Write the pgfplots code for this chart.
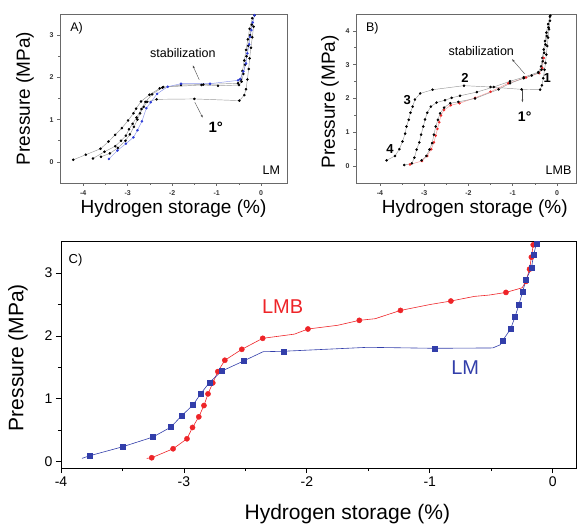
\documentclass[border=0pt]{standalone}
\usepackage{fontspec}
\setmainfont{Liberation Sans}
\usepackage{pgfplots}
\pgfplotsset{compat=1.18}
\usetikzlibrary{arrows.meta}

\definecolor{lmblue}{RGB}{50,62,170}
\definecolor{lmbred}{RGB}{238,36,40}
\definecolor{framegray}{RGB}{105,105,105}
\definecolor{ablue}{RGB}{45,60,215}
\definecolor{alblue}{RGB}{140,150,235}
\definecolor{bred}{RGB}{235,40,40}
\definecolor{bpink}{RGB}{245,150,150}

\pgfplotsset{
  smallpanel/.style={
    scale only axis, height=169pt,
    axis line style={framegray, line width=0.9pt},
    tick pos=left, tick align=outside,
    minor tick num=1,
    major tick length=3pt, minor tick length=1.6pt,
    tick style={framegray, line width=0.6pt},
    /pgf/number format/assume math mode=true,
    tick label style={font=\fontsize{7}{8}\selectfont\bfseries, text=black!80},
    xticklabel style={yshift=-1pt},
    label style={font=\fontsize{19}{22}\selectfont},
  },
  kdot/.style={color=black!40, line width=0.45pt, mark=*, mark size=1.05pt, mark options={draw=black, fill=black}},
}

\pgfplotstableread{
x y
-4.22 0.05
-3.94 0.17
-3.61 0.31
-3.43 0.48
-3.28 0.64
-3.13 0.80
-2.99 0.98
-2.87 1.15
-2.81 1.26
-2.70 1.43
-2.51 1.59
-2.28 1.74
-2.20 1.77
-1.34 1.82
-0.97 1.80
-0.50 1.82
-0.44 1.90
-0.40 2.08
-0.36 2.30
-0.33 2.50
-0.29 2.75
-0.25 3.00
-0.21 3.25
-0.15 3.47
}\tableAone

\pgfplotstableread{
x y
-3.78 0.08
-3.52 0.24
-3.28 0.37
-3.15 0.50
-3.04 0.62
-2.97 0.77
-2.89 0.90
-2.80 1.05
-2.69 1.25
-2.60 1.42
-2.45 1.60
-2.22 1.76
-1.80 1.82
-1.30 1.83
-0.52 1.86
-0.46 1.95
-0.42 2.15
-0.38 2.40
-0.34 2.65
-0.30 2.90
-0.26 3.15
-0.20 3.40
}\tableAtwo

\pgfplotstableread{
x y
-3.60 0.12
-3.40 0.20
-3.22 0.33
-3.05 0.50
-2.95 0.65
-2.86 0.83
-2.78 1.00
-2.72 1.15
-2.64 1.30
-2.56 1.42
-2.35 1.48
-1.50 1.49
-0.49 1.45
-0.38 1.58
-0.34 1.72
-0.31 1.95
-0.28 2.20
-0.26 2.45
-0.23 2.70
-0.20 2.95
-0.17 3.20
}\tableAthree

\pgfplotstableread{
x y
-3.42 0.07
-3.23 0.27
-3.04 0.43
-2.87 0.58
-2.78 0.75
-2.68 0.96
-2.58 1.27
-2.48 1.41
-2.34 1.61
-2.10 1.78
-1.80 1.85
-1.15 1.85
-0.52 1.93
-0.47 1.96
-0.40 2.14
-0.34 2.33
-0.31 2.57
-0.27 2.78
-0.25 2.96
-0.22 3.12
-0.19 3.30
-0.15 3.47
}\tableAblue

\pgfplotstableread{
x y
-3.85 0.17
-3.66 0.30
-3.56 0.50
-3.49 0.73
-3.43 0.96
-3.40 1.17
-3.35 1.37
-3.31 1.58
-3.26 1.76
-3.21 1.97
-3.09 2.15
-2.81 2.26
-2.10 2.38
-1.50 2.34
-0.80 2.27
-0.38 2.26
-0.34 2.39
-0.31 2.60
-0.28 2.85
-0.26 3.05
-0.24 3.30
-0.22 3.55
-0.20 3.80
-0.18 4.05
-0.16 4.30
-0.15 4.45
}\tableBone

\pgfplotstableread{
x y
-3.45 0.03
-3.28 0.08
-3.22 0.25
-3.17 0.49
-3.11 0.70
-3.07 0.93
-3.02 1.17
-2.98 1.38
-2.93 1.58
-2.85 1.76
-2.72 1.88
-2.53 1.95
-2.38 2.02
-2.19 2.08
-1.81 2.19
-1.43 2.34
-1.06 2.51
-0.75 2.63
-0.42 2.78
-0.36 2.95
-0.33 3.20
-0.30 3.45
-0.27 3.70
-0.24 3.95
-0.20 4.20
-0.16 4.42
}\tableBtwo

\pgfplotstableread{
x y
-3.06 0.17
-2.95 0.30
-2.88 0.49
-2.82 0.68
-2.78 0.93
-2.74 1.17
-2.69 1.37
-2.64 1.56
-2.55 1.73
-2.41 1.86
-2.23 1.90
-1.85 2.00
-1.32 2.27
-1.06 2.45
-0.75 2.60
-0.57 2.68
-0.42 2.76
-0.35 2.85
-0.32 3.10
-0.29 3.35
-0.26 3.60
-0.23 3.85
-0.19 4.10
}\tableBthree

\pgfplotstableread{
x y
-3.32 0.05
-3.05 0.15
-2.93 0.30
-2.84 0.50
-2.78 0.70
-2.74 0.90
-2.70 1.10
-2.66 1.30
-2.62 1.50
-2.55 1.66
-2.40 1.80
-2.20 1.86
-1.85 2.02
-1.50 2.20
-1.10 2.45
-0.70 2.62
-0.40 2.75
-0.33 2.90
-0.30 3.20
}\tableBred

\pgfplotstableread{
x y
-3.829 0.053
-3.767 0.095
-3.498 0.238
-3.253 0.392
-3.106 0.550
-3.022 0.725
-2.927 0.900
-2.864 1.080
-2.792 1.260
-2.694 1.440
-2.517 1.600
-2.356 1.750
-2.191 1.757
-1.504 1.820
-0.957 1.804
-0.487 1.810
-0.427 1.860
-0.407 1.926
-0.341 2.116
-0.305 2.312
-0.275 2.497
-0.245 2.698
-0.218 2.889
-0.173 3.079
-0.155 3.286
-0.132 3.476
}\tableLMline

\pgfplotstableread{
x y
-3.767 0.095
-3.498 0.238
-3.253 0.392
-3.106 0.550
-3.022 0.725
-2.927 0.900
-2.864 1.080
-2.792 1.260
-2.694 1.440
-2.517 1.600
-2.191 1.757
-0.957 1.804
-0.407 1.926
-0.341 2.116
-0.305 2.312
-0.275 2.497
-0.245 2.698
-0.218 2.889
-0.173 3.079
-0.155 3.286
-0.132 3.476
}\tableLMmarks

\pgfplotstableread{
x y
-3.303 0.053
-3.262 0.063
-3.088 0.206
-2.975 0.365
-2.930 0.545
-2.879 0.714
-2.837 0.894
-2.804 1.079
-2.765 1.254
-2.724 1.434
-2.667 1.614
-2.529 1.788
-2.359 1.963
-2.100 2.030
-1.991 2.111
-1.750 2.170
-1.573 2.249
-1.444 2.275
-1.238 2.407
-1.000 2.500
-0.828 2.556
-0.637 2.630
-0.517 2.651
-0.380 2.693
-0.248 2.767
-0.218 2.868
-0.188 3.063
-0.173 3.254
-0.158 3.450
}\tableLMBline

\pgfplotstableread{
x y
-3.262 0.063
-3.088 0.206
-2.975 0.365
-2.930 0.545
-2.879 0.714
-2.837 0.894
-2.804 1.079
-2.765 1.254
-2.724 1.434
-2.667 1.614
-2.529 1.788
-2.359 1.963
-1.991 2.111
-1.573 2.249
-1.238 2.407
-0.828 2.556
-0.380 2.693
-0.218 2.868
-0.188 3.063
-0.173 3.254
-0.158 3.450
}\tableLMBmarks

\begin{document}
\begin{tikzpicture}
\path[use as bounding box] (0,0) rectangle (577pt,525pt);

% ---------------- Panel A ----------------
\begin{axis}[smallpanel,
  at={(60pt,342pt)}, anchor=south west,
  width=227pt,
  xmin=-4.52, xmax=0.58, ymin=-0.5, ymax=3.5,
  xtick={-4,-3,-2,-1,0}, ytick={0,1,2,3},
  xlabel={Hydrogen storage (\%)}, ylabel={Pressure (MPa)},
  xlabel style={at={(axis description cs:0.5,-0.154)}, anchor=center},
  ylabel style={at={(axis description cs:-0.154,0.5)}, anchor=center},
]
\addplot[kdot] table {\tableAone};
\addplot[kdot] table {\tableAtwo};
\addplot[kdot] table {\tableAthree};
\addplot[color=alblue, line width=0.45pt, mark=*, mark size=1.05pt, mark options={draw=ablue, fill=ablue}] table {\tableAblue};
\node[font=\fontsize{12.5}{14}\selectfont, anchor=north west] at (axis description cs:0.03,0.97) {A)};
\node[font=\fontsize{12.5}{14}\selectfont, anchor=south east] at (axis description cs:0.985,0.03) {LM};
\node[font=\fontsize{12.5}{14}\selectfont] at (-1.76,2.58) {stabilization};
\draw[black!70, line width=0.4pt, -{Latex[length=3pt,width=2pt]}] (-1.39,1.94) -- (-1.54,2.29);
\node[font=\fontsize{15}{17}\selectfont\bfseries] at (-1.02,0.82) {1°};
\draw[black!70, line width=0.4pt, -{Latex[length=3pt,width=2pt]}] (-1.49,1.41) -- (-1.31,1.04);
\end{axis}

% ---------------- Panel B ----------------
\begin{axis}[smallpanel,
  at={(356pt,342pt)}, anchor=south west,
  width=220pt,
  xmin=-4.54, xmax=0.43, ymin=-0.5, ymax=4.5,
  xtick={-4,-3,-2,-1,0}, ytick={0,1,2,3,4},
  xlabel={Hydrogen storage (\%)}, ylabel={Pressure (MPa)},
  xlabel style={at={(axis description cs:0.54,-0.154)}, anchor=center},
  ylabel style={at={(axis description cs:-0.118,0.48)}, anchor=center},
]
\addplot[kdot] table {\tableBone};
\addplot[kdot] table {\tableBtwo};
\addplot[color=bpink, line width=0.45pt, mark=*, mark size=1.05pt, mark options={draw=bred, fill=bred}] table {\tableBred};
\addplot[kdot] table {\tableBthree};
\node[font=\fontsize{12.5}{14}\selectfont, anchor=north west] at (axis description cs:0.03,0.97) {B)};
\node[font=\fontsize{12.5}{14}\selectfont, anchor=south east] at (axis description cs:0.995,0.03) {LMB};
\node[font=\fontsize{12.5}{14}\selectfont] at (-1.71,3.41) {stabilization};
\draw[black!70, line width=0.4pt, -{Latex[length=3pt,width=2pt]}] (-0.73,2.73) -- (-1.02,3.17);
\node[font=\fontsize{14}{16}\selectfont\bfseries] at (-0.73,1.46) {1°};
\draw[black!70, line width=0.4pt, -{Latex[length=3pt,width=2pt]}] (-0.78,2.26) -- (-0.78,1.88);
\node[font=\fontsize{13}{15}\selectfont\bfseries] at (-2.08,2.62) {2};
\node[font=\fontsize{13}{15}\selectfont\bfseries] at (-3.38,1.95) {3};
\node[font=\fontsize{13}{15}\selectfont\bfseries] at (-3.77,0.50) {4};
\node[font=\fontsize{13}{15}\selectfont\bfseries] at (-0.22,2.62) {1};
\end{axis}

% ---------------- Panel C ----------------
\begin{axis}[
  scale only axis,
  at={(61pt,57pt)}, anchor=south west,
  width=515pt, height=226.3pt,
  xmin=-4, xmax=0.19, ymin=-0.1, ymax=3.5,
  xtick={-4,-3,-2,-1,0}, ytick={0,1,2,3},
  minor tick num=1,
  tick pos=left, tick align=outside,
  major tick length=5pt, minor tick length=3pt,
  axis line style={black, line width=1pt},
  tick style={black, line width=0.8pt},
  /pgf/number format/assume math mode=true,
  tick label style={font=\fontsize{14}{16}\selectfont},
  label style={font=\fontsize{21}{24}\selectfont},
  xlabel={Hydrogen storage (\%)}, ylabel={Pressure (MPa)},
  xlabel style={at={(axis description cs:0.556,-0.203)}, anchor=center},
  ylabel style={at={(axis description cs:-0.0835,0.488)}, anchor=center},
]
\addplot[lmbred, line width=0.6pt] table {\tableLMBline};
\addplot[lmbred, only marks, mark=*, mark size=2.6pt] table {\tableLMBmarks};
\addplot[lmblue, line width=0.6pt] table {\tableLMline};
\addplot[lmblue, only marks, mark=square*, mark size=2.5pt] table {\tableLMmarks};
\node[font=\fontsize{13}{15}\selectfont, anchor=north west] at (axis description cs:0.008,0.96) {C)};
\node[font=\fontsize{20}{24}\selectfont, text=lmbred] at (-2.197,2.46) {LMB};
\node[font=\fontsize{20}{24}\selectfont, text=lmblue] at (-0.711,1.497) {LM};
\end{axis}
\end{tikzpicture}
\end{document}
